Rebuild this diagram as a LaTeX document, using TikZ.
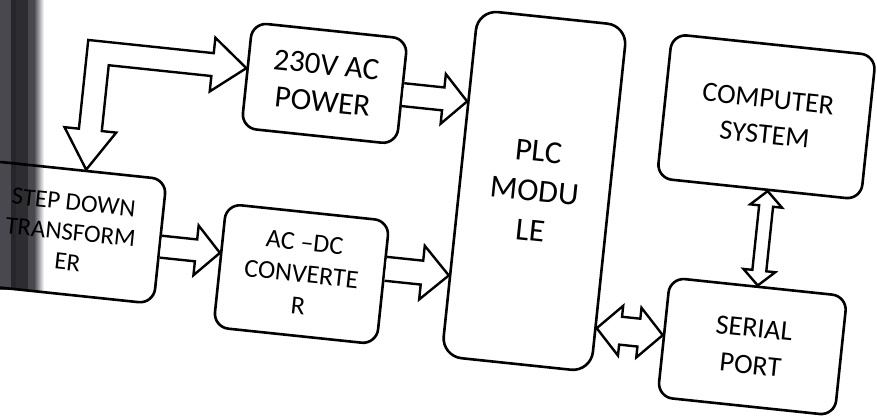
\documentclass[tikz,border=0pt]{standalone}
\usepackage{fontspec}
\setmainfont{Carlito}
\usetikzlibrary{calc}
\definecolor{bandgray}{HTML}{4A484F}
\definecolor{banddark}{HTML}{26252A}
\tikzset{
  blk/.style={draw=black, line width=2.6pt, rounded corners=15pt, align=center, inner sep=0pt},
  barrow/.style={draw=black, line width=2.4pt, line join=miter, fill=white},
}
% right-pointing block arrow: #1 from, #2 to, #3 y offset (from #1), #4 shaft half, #5 head half, #6 head length
\newcommand\blockR[6]{\draw[barrow] let \p1=#1, \p2=#2 in
  (\x1,{\y1+#3+#4}) -- ({\x2-#6},{\y1+#3+#4}) -- ({\x2-#6},{\y1+#3+#5}) -- (\x2,{\y1+#3})
  -- ({\x2-#6},{\y1+#3-#5}) -- ({\x2-#6},{\y1+#3-#4}) -- (\x1,{\y1+#3-#4});}
% horizontal double block arrow: y taken from #2
\newcommand\blockLR[6]{\draw[barrow] let \p1=#1, \p2=#2 in
  (\x1,{\y2+#3}) -- ({\x1+#6},{\y2+#3+#5}) -- ({\x1+#6},{\y2+#3+#4}) -- ({\x2-#6},{\y2+#3+#4})
  -- ({\x2-#6},{\y2+#3+#5}) -- (\x2,{\y2+#3}) -- ({\x2-#6},{\y2+#3-#5}) -- ({\x2-#6},{\y2+#3-#4})
  -- ({\x1+#6},{\y2+#3-#4}) -- ({\x1+#6},{\y2+#3-#5}) -- cycle;}
% vertical double block arrow: #1 lower anchor, #2 upper anchor, #3 x offset (from #1)
\newcommand\blockUD[6]{\draw[barrow] let \p1=#1, \p2=#2 in
  ({\x1+#3},\y1) -- ({\x1+#3+#5},{\y1+#6}) -- ({\x1+#3+#4},{\y1+#6}) -- ({\x1+#3+#4},{\y2-#6})
  -- ({\x1+#3+#5},{\y2-#6}) -- ({\x1+#3},\y2) -- ({\x1+#3-#5},{\y2-#6}) -- ({\x1+#3-#4},{\y2-#6})
  -- ({\x1+#3-#4},{\y1+#6}) -- ({\x1+#3-#5},{\y1+#6}) -- cycle;}
\begin{document}
\begin{tikzpicture}[x=1pt,y=1pt]
\useasboundingbox (0,0) rectangle (877,418);
\clip (0,0) rectangle (877,418);
% dark page edge
\fill[bandgray] (0,128) rectangle (36,418);
\fill[banddark] (11,128) rectangle (16,418);
\fill[banddark!80!bandgray] (16,128) rectangle (28,418);
\shade[left color=bandgray, right color=white] (34,128) rectangle (44,418);
\begin{scope}[rotate around={-6:(438.5,209)}, transform shape]
  \node[blk, minimum width=180pt, minimum height=125pt, font=\fontsize{25}{30}\selectfont]
    (T) at (75,147.5) {STEP DOWN\\TRANSFORM\\ER};
  \node[blk, minimum width=156pt, minimum height=106pt, font=\fontsize{31}{37}\selectfont]
    (P230) at (312,322) {230V AC\\POWER};
  \node[blk, minimum width=164pt, minimum height=124pt, font=\fontsize{26}{32}\selectfont]
    (ACDC) at (309,130) {AC –DC\\CONVERTE\\R};
  \node[blk, rounded corners=20pt, minimum width=150pt, minimum height=348pt, font=\fontsize{32}{40}\selectfont]
    (PLC) at (532,237) {PLC\\MODU\\LE};
  \node[blk, minimum width=205pt, minimum height=145pt, font=\fontsize{28}{36}\selectfont]
    (PC) at (755,335) {COMPUTER\\SYSTEM};
  \node[blk, minimum width=178pt, minimum height=120pt, font=\fontsize{28}{37}\selectfont]
    (SP) at (765,105) {SERIAL\\PORT};
  % L-shaped double arrow between transformer and 230V AC power
  \draw[barrow] let \p1=(P230.west), \p2=(T.north) in
    (\x1,{\y1+7pt}) -- ({\x1-34pt},{\y1+34pt}) -- ({\x1-34pt},{\y1+18.5pt})
    -- ({\x2-2.5pt},{\y1+18.5pt}) -- ({\x2-2.5pt},{\y2+40pt}) -- ({\x2-17pt},{\y2+40pt})
    -- ({\x2+9pt},\y2) -- ({\x2+35pt},{\y2+40pt}) -- ({\x2+20.5pt},{\y2+40pt})
    -- ({\x2+20.5pt},{\y1-4.5pt}) -- ({\x1-34pt},{\y1-4.5pt}) -- ({\x1-34pt},{\y1-20pt}) -- cycle;
  \blockR{(P230.east)}{(PLC.west)}{-3pt}{11.5pt}{25pt}{24pt}
  \blockR{(T.east)}{(ACDC.west)}{-5pt}{11pt}{25pt}{24pt}
  \blockR{(ACDC.east)}{(PLC.west)}{14pt}{12pt}{27pt}{27pt}
  \blockLR{(PLC.east)}{(SP.west)}{2pt}{14pt}{25pt}{24pt}
  \blockUD{(SP.north)}{(PC.south)}{-1pt}{7pt}{16pt}{15pt}
\end{scope}
\end{tikzpicture}
\end{document}
